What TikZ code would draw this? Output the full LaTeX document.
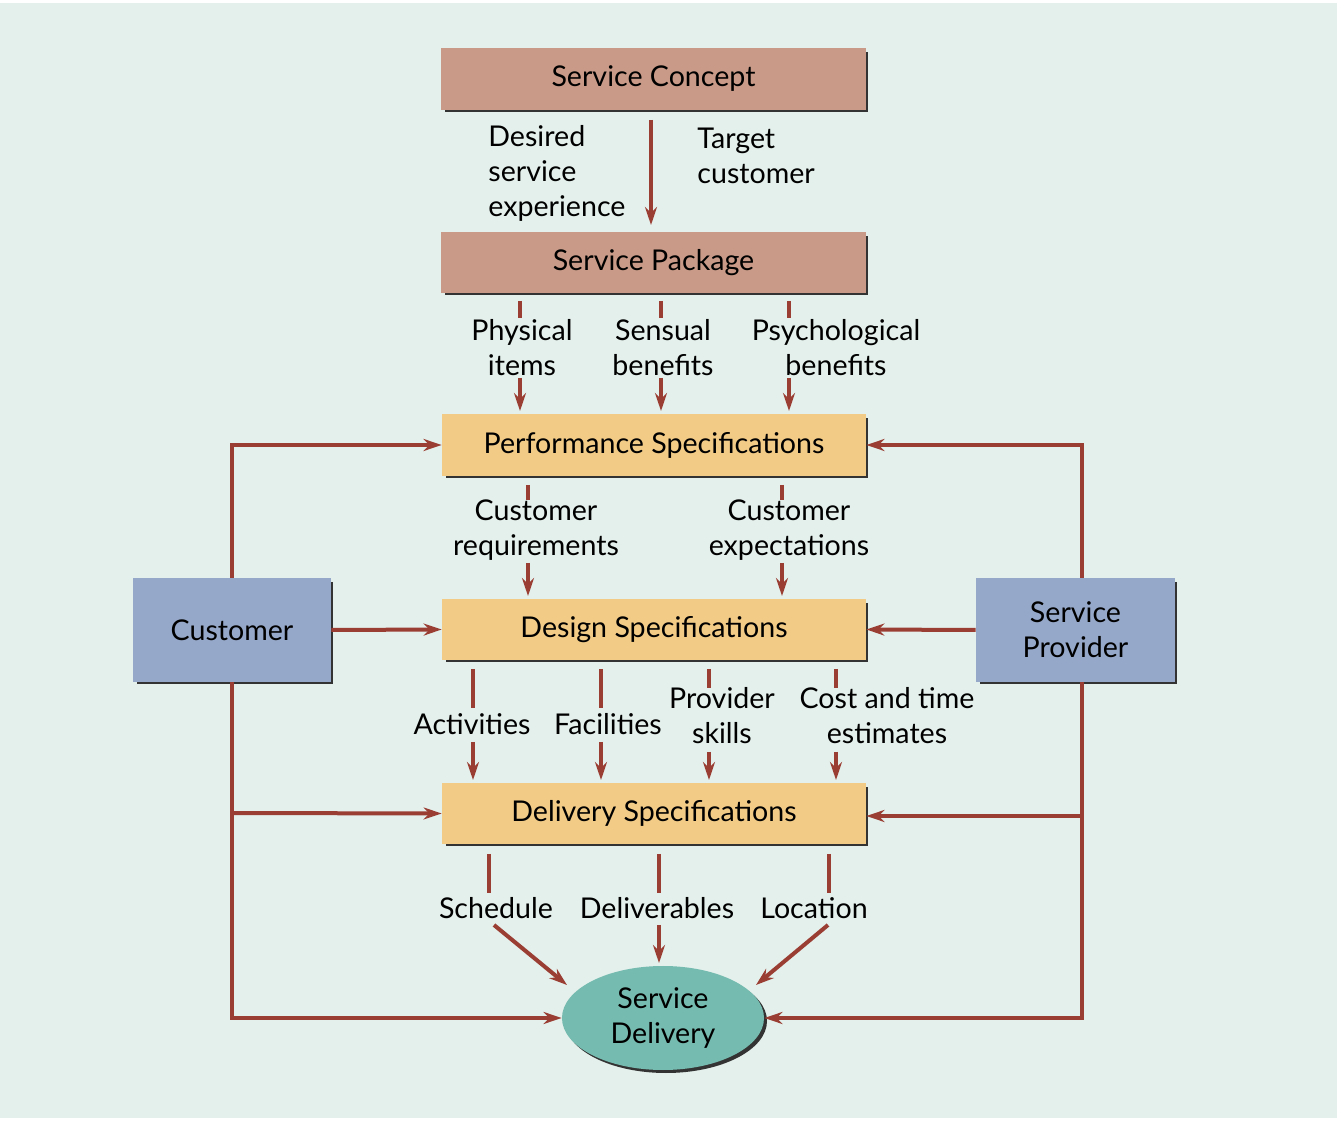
\documentclass[tikz,border=0pt]{standalone}
\usepackage{fontspec}
\setmainfont{Lato}
\usetikzlibrary{positioning, calc, arrows.meta, shapes.geometric}
\definecolor{bgc}{HTML}{E4F0EC}
\definecolor{conc}{HTML}{C99A87}
\definecolor{spec}{HTML}{F2CB87}
\definecolor{actor}{HTML}{96A8C9}
\definecolor{deliv}{HTML}{76BBAF}
\definecolor{flow}{HTML}{9A3D33}
\tikzset{
  lbl/.style={font=\fontsize{14.3}{17.5}\selectfont, align=center, inner sep=0pt},
  link/.style={flow, line width=2pt},
  arr/.style={link, -{Stealth[length=9pt, width=6pt]}},
}
\begin{document}
\begin{tikzpicture}[x=0.5pt, y=-0.5pt]
\useasboundingbox (0,0) rectangle (1340,1122);
\fill[bgc] (0,3) rectangle (1337,1118);

% boxes
\foreach \nm/\cx/\cy/\bw/\bh/\col in {sc/653.5/79/425/62/conc, sp/653.5/262.5/425/61/conc,
    perf/654/445/424/62/spec, des/654/629.5/424/61/spec, del/654/813.5/424/61/spec,
    cust/232/630/198/104/actor, prov/1075.5/630/199/104/actor}{
  \fill[black!80] (\cx-\bw/2+4,\cy-\bh/2+4) rectangle (\cx+\bw/2+2,\cy+\bh/2+2);
  \fill[\col] (\cx-\bw/2,\cy-\bh/2) rectangle (\cx+\bw/2,\cy+\bh/2);
  \node[minimum width=\bw*0.5pt, minimum height=\bh*0.5pt, inner sep=0pt] (\nm) at (\cx,\cy) {};
}
\node[lbl] at (sc) {Service Concept};
\node[lbl] at (sp) {Service Package};
\node[lbl] at (perf) {Performance Specifications};
\node[lbl] at (des) {Design Specifications};
\node[lbl] at (del) {Delivery Specifications};
\node[lbl] at (cust) {Customer};
\node[lbl] at (prov) {Service\\Provider};
\fill[black!80] (666,1021) ellipse [x radius=101, y radius=52];
\node[ellipse, fill=deliv, minimum width=101pt, minimum height=52pt, inner sep=0pt] (sd) at (663,1018) {};
\node[lbl] at (sd) {Service\\Delivery};

% service concept -> package
\draw[arr] (651,120) -- (651,225);
\node[lbl, align=left, anchor=west] at (488,173) {Desired\\service\\experience};
\node[lbl, align=left, anchor=west] at (697,156) {Target\\customer};

% package -> performance
\foreach \x/\tx/\t in {520/522/{Physical\\items}, 661/663/{Sensual\\benefits}, 789/836/{Psychological\\benefits}}{
  \draw[link] (\x,301) -- (\x,318);
  \node[lbl] at (\tx,348) {\t};
  \draw[arr] (\x,378) -- (\x,411);
}
% performance -> design
\foreach \x/\tx/\t in {528/536/{Customer\\requirements}, 782/789/{Customer\\expectations}}{
  \draw[link] (\x,485) -- (\x,500);
  \node[lbl] at (\tx,530) {\t};
  \draw[arr] (\x,563) -- (\x,596);
}
% design -> delivery
\foreach \x/\tx/\ty/\sy/\ay/\t in {473/472/724/708/742/{Activities}, 601/608/724/708/742/{Facilities},
    709/722/716/688/752/{Provider\\skills}, 836/887/716/688/752/{Cost and time\\estimates}}{
  \draw[link] (\x,669) -- (\x,\sy);
  \node[lbl] at (\tx,\ty) {\t};
  \draw[arr] (\x,\ay) -- (\x,780);
}
% delivery -> service delivery
\foreach \x/\tx/\t in {489/496/Schedule, 659/657/Deliverables, 829/814/Location}{
  \draw[link] (\x,854) -- (\x,893);
  \node[lbl] at (\tx,908) {\t};
}
\draw[arr] (494,925) -- (567,985);
\draw[arr] (659,925) -- (659,963);
\draw[arr] (828,925) -- (756,985);

% customer side
\draw[arr] (cust.north) |- (perf.west);
\draw[arr] (cust.east) -- (des.west);
\draw[arr] (cust.south) |- (sd.west);
\draw[arr] (232,813) -- (del.west);
% provider side
\draw[arr] (1082,578) |- (perf.east);
\draw[arr] (prov.west) -- (des.east);
\draw[arr] (1082,682) |- (sd.east);
\draw[arr] (1082,816) -- (del.east |- 0,816);
\end{tikzpicture}
\end{document}
